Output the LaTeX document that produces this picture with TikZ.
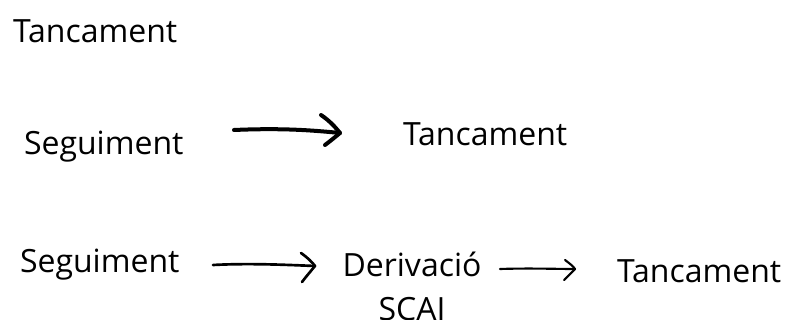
\documentclass[tikz,border=0pt]{standalone}
\usepackage{fontspec}
\setmainfont{Open Sans}
\begin{document}
\begin{tikzpicture}[x=0.75pt,y=-0.75pt,
  lbl/.style={inner sep=0pt,outer sep=0pt,anchor=base west,font=\fontsize{24}{32.4}\selectfont},
  brush/.style={line cap=round,line join=round,draw=black}]
\useasboundingbox (0,0) rectangle (787,320);
% texts
\node[lbl] (t1) at (13,43) {Tancament};
\node[lbl] (s2) at (24,155) {Seguiment};
\node[lbl] (t2) at (403,146) {Tancament};
\node[lbl] (s3) at (20,272) {Seguiment};
\node[lbl,anchor=base,align=center] (d3) at (412,320) {Derivació\\SCAI};
\node[lbl] (t3) at (617,282) {Tancament};
% arrow 1 (thick brush)
\coordinate (a1s) at (234,130);
\coordinate (a1e) at (340,133);
\draw[brush,line width=3pt] (a1s) .. controls (280,128) and (310,130) .. (a1e);
\draw[brush,line width=3pt] (321,115) .. controls (330,121) and (336,128) .. (a1e)
      .. controls (334,138) and (329,142) .. (325,145);
% arrow 2
\coordinate (a2s) at (213,265);
\coordinate (a2e) at (315,266);
\draw[brush,line width=2pt] (a2s) .. controls (250,263) and (290,265) .. (a2e);
\draw[brush,line width=2pt] (301,253) .. controls (308,258) and (312,262) .. (a2e)
      .. controls (310,272) and (305,278) .. (302,282);
% arrow 3
\coordinate (a3s) at (500,269);
\coordinate (a3e) at (575,269);
\draw[brush,line width=1.6pt] (a3s) .. controls (530,268) and (555,269) .. (a3e);
\draw[brush,line width=1.6pt] (565,260) .. controls (569,263) and (573,266) .. (a3e)
      .. controls (571,273) and (567,277) .. (564,280);
\end{tikzpicture}
\end{document}
